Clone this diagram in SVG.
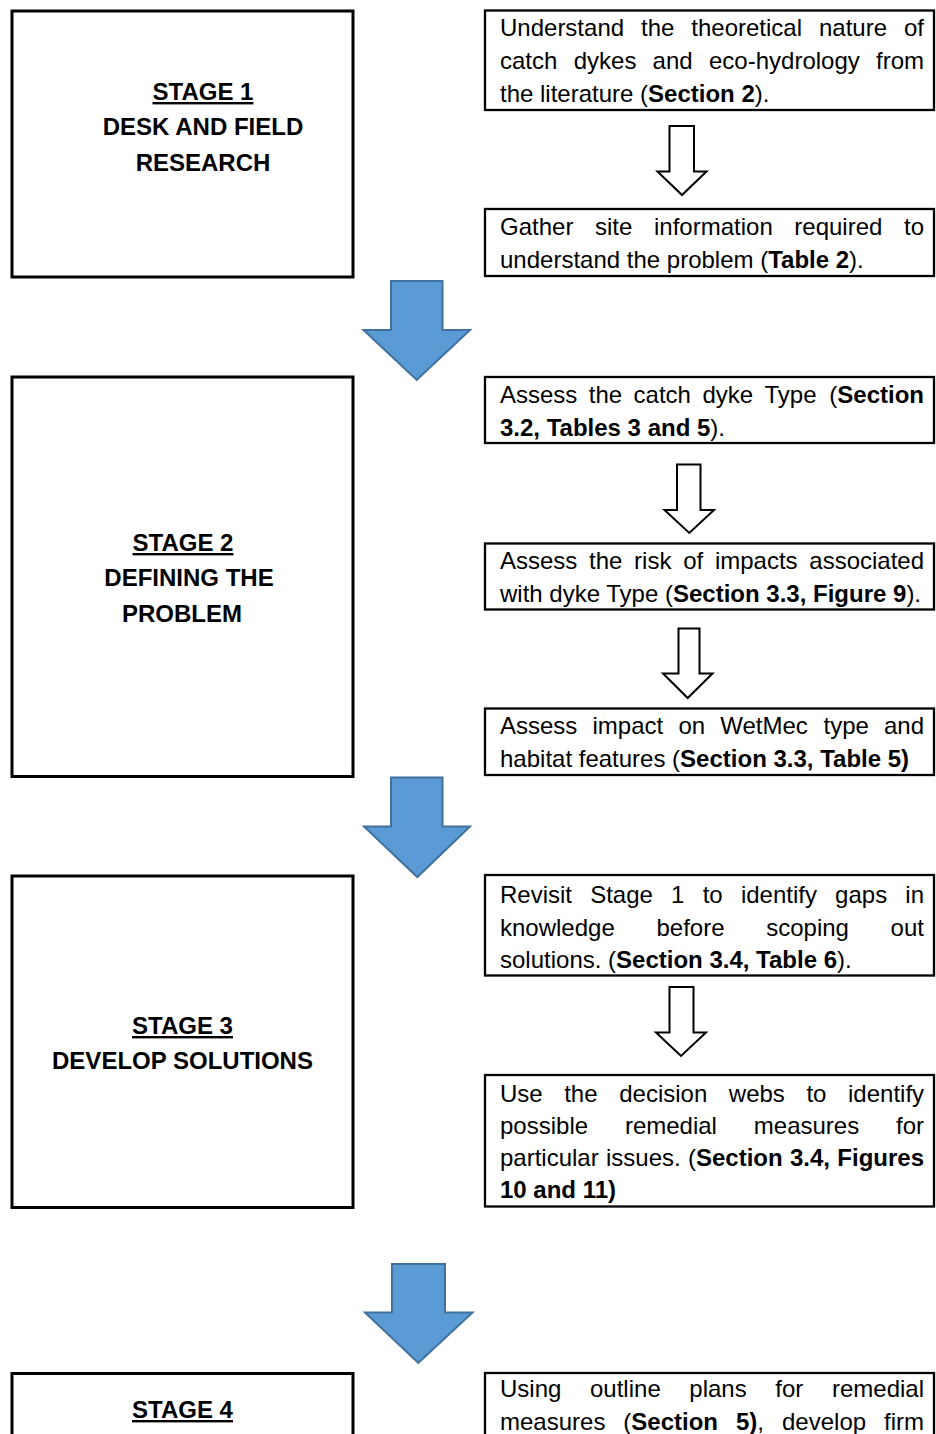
<svg xmlns="http://www.w3.org/2000/svg" width="936" height="1434" viewBox="0 0 936 1434">
<style>
.stage{fill:#fff;stroke:#000;stroke-width:3}
.step{fill:#fff;stroke:#000;stroke-width:2.3}
.st{font-family:"Liberation Sans",Arial,sans-serif;font-size:24px;font-weight:bold;fill:#000;text-anchor:middle}
.u{text-decoration:underline}
.tx{font-family:"Liberation Sans",Arial,sans-serif;font-size:24px;fill:#000}
.b{font-weight:bold}
.big{fill:#5B9BD5;stroke:#41719C;stroke-width:2}
.small{fill:#fff;stroke:#000;stroke-width:2}
</style>
<rect width="936" height="1434" fill="#fff"/>

<g id="stage1">
<rect class="stage" x="12" y="11" width="341" height="266"/>
<text class="st u" x="203" y="100">STAGE 1</text>
<text class="st" x="203" y="135">DESK AND FIELD</text>
<text class="st" x="203" y="171">RESEARCH</text>
</g>

<g id="step1">
<rect class="step" x="485" y="10.5" width="449" height="99.5"/>
<text class="tx" y="36"><tspan x="500">Understand</tspan><tspan x="641">the</tspan><tspan x="691.3">theoretical</tspan><tspan x="819">nature</tspan><tspan x="904">of</tspan></text>
<text class="tx" y="69"><tspan x="500">catch</tspan><tspan x="573.7">dykes</tspan><tspan x="652.6">and</tspan><tspan x="709">eco-hydrology</tspan><tspan x="876">from</tspan></text>
<text class="tx" x="500" y="102">the literature (<tspan class="b">Section 2</tspan>).</text>
</g>

<g id="step2">
<rect class="step" x="485" y="209" width="449" height="67"/>
<text class="tx" y="235"><tspan x="500">Gather</tspan><tspan x="595">site</tspan><tspan x="654">information</tspan><tspan x="794.3">required</tspan><tspan x="904">to</tspan></text>
<text class="tx" x="500" y="268">understand the problem (<tspan class="b">Table 2</tspan>).</text>
</g>

<g id="stage2">
<rect class="stage" x="12" y="377" width="341" height="399.5"/>
<text class="st u" x="183" y="551">STAGE 2</text>
<text class="st" x="189" y="586">DEFINING THE</text>
<text class="st" x="182" y="621.5">PROBLEM</text>
</g>

<g id="step3">
<rect class="step" x="485" y="377" width="449" height="66"/>
<text class="tx" y="403"><tspan x="500">Assess</tspan><tspan x="588.8">the</tspan><tspan x="633.6">catch</tspan><tspan x="702.4">dyke</tspan><tspan x="764.5">Type</tspan><tspan x="829.3">(</tspan><tspan class="b">Section</tspan></text>
<text class="tx" x="500" y="436"><tspan class="b">3.2, Tables 3 and 5</tspan>).</text>
</g>

<g id="step4">
<rect class="step" x="485" y="543.5" width="449" height="66"/>
<text class="tx" y="569"><tspan x="500">Assess</tspan><tspan x="589.1">the</tspan><tspan x="634.1">risk</tspan><tspan x="683.2">of</tspan><tspan x="714.9">impacts</tspan><tspan x="809.3">associated</tspan></text>
<text class="tx" x="500" y="601.5">with dyke Type (<tspan class="b">Section 3.3, Figure 9</tspan>).</text>
</g>

<g id="step5">
<rect class="step" x="485" y="708.5" width="449" height="66.5"/>
<text class="tx" y="734"><tspan x="500">Assess</tspan><tspan x="592.5">impact</tspan><tspan x="678.4">on</tspan><tspan x="720.3">WetMec</tspan><tspan x="823.5">type</tspan><tspan x="884">and</tspan></text>
<text class="tx" x="500" y="767">habitat features (<tspan class="b">Section 3.3, Table 5)</tspan></text>
</g>

<g id="stage3">
<rect class="stage" x="12" y="876" width="341" height="331.5"/>
<text class="st u" x="182.5" y="1034">STAGE 3</text>
<text class="st" x="182.5" y="1069">DEVELOP SOLUTIONS</text>
</g>

<g id="step6">
<rect class="step" x="485" y="875" width="449" height="100.5"/>
<text class="tx" y="903"><tspan x="500">Revisit</tspan><tspan x="590.2">Stage</tspan><tspan x="671.1">1</tspan><tspan x="702.7">to</tspan><tspan x="740.9">identify</tspan><tspan x="835.1">gaps</tspan><tspan x="905.3">in</tspan></text>
<text class="tx" y="936"><tspan x="500">knowledge</tspan><tspan x="656.5">before</tspan><tspan x="766.2">scoping</tspan><tspan x="890.6">out</tspan></text>
<text class="tx" x="500" y="968">solutions. (<tspan class="b">Section 3.4, Table 6</tspan>).</text>
</g>

<g id="step7">
<rect class="step" x="485" y="1075" width="449" height="131.5"/>
<text class="tx" y="1101.5"><tspan x="500">Use</tspan><tspan x="564.2">the</tspan><tspan x="619.2">decision</tspan><tspan x="728.8">webs</tspan><tspan x="806.4">to</tspan><tspan x="848">identify</tspan></text>
<text class="tx" y="1134"><tspan x="500">possible</tspan><tspan x="624.9">remedial</tspan><tspan x="753.8">measures</tspan><tspan x="896">for</tspan></text>
<text class="tx" y="1166"><tspan x="500">particular</tspan><tspan x="606">issues.</tspan><tspan x="688">(</tspan><tspan class="b">Section</tspan><tspan class="b" x="790">3.4,</tspan><tspan class="b" x="837.3">Figures</tspan></text>
<text class="tx b" x="500" y="1198">10 and 11)</text>
</g>

<g id="stage4">
<rect class="stage" x="12" y="1373.5" width="341" height="100"/>
<text class="st u" x="182.5" y="1418">STAGE 4</text>
</g>

<g id="step8">
<rect class="step" x="485" y="1373" width="449" height="100"/>
<text class="tx" y="1397"><tspan x="500">Using</tspan><tspan x="590">outline</tspan><tspan x="689.3">plans</tspan><tspan x="775.3">for</tspan><tspan x="832">remedial</tspan></text>
<text class="tx" y="1429.5"><tspan x="500">measures</tspan><tspan x="623.3">(</tspan><tspan class="b">Section</tspan><tspan class="b" x="736">5)</tspan>,<tspan x="782">develop</tspan><tspan x="884">firm</tspan></text>
</g>

<g id="connectors">
<polygon class="big" points="391,281 442.5,281 442.5,330 470,330 416.7,380 363.5,330 391,330"/>
<polygon class="big" points="391,777.5 442.5,777.5 442.5,826.5 470,826.5 417.3,877 364,826.5 391,826.5"/>
<polygon class="big" points="392,1264 445,1264 445,1312.5 472.5,1312.5 418.3,1363 365,1312.5 392,1312.5"/>
<polygon class="small" points="669.5,126 694,126 694,171.5 706.5,171.5 682,195 657.5,171.5 669.5,171.5"/>
<polygon class="small" points="677,464.5 700.5,464.5 700.5,510 714,510 689.3,533 664.5,510 677,510"/>
<polygon class="small" points="678.5,628.5 699.5,628.5 699.5,673.5 712.5,673.5 687.7,698 663,673.5 678.5,673.5"/>
<polygon class="small" points="669.5,987 693.5,987 693.5,1032.5 706,1032.5 681,1056 656,1032.5 669.5,1032.5"/>
</g>
</svg>
